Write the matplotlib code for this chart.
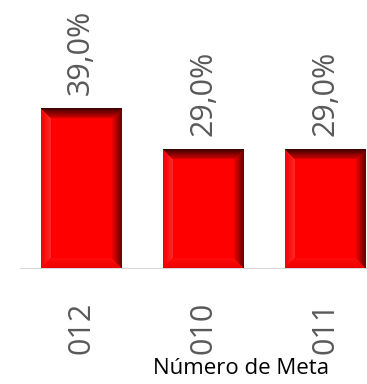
import matplotlib
matplotlib.use("Agg")
import matplotlib.pyplot as plt
import numpy as np

# data
metas = ["012", "010", "011"]
porcentajes = [39.0, 29.0, 29.0]
etiquetas = ["39,0%", "29,0%", "29,0%"]

plt.rcParams["font.family"] = ["Open Sans", "DejaVu Sans"]
GRIS = "#595959"


def bevel_image(w, h, b):
    """RGB image of a red bar with a bevelled (3D) look, w x h pixels."""
    yy, xx = np.mgrid[0:h, 0:w] + 0.5
    dists = np.stack([yy, w - xx, h - yy, xx])  # top, right, bottom, left
    side = dists.argmin(axis=0)
    t = np.clip(dists.min(axis=0) / b, 0, 1)[..., None]
    img = np.ones((h, w, 3)) * np.array([1.0, 0.0, 0.0])
    shades = [
        ((0.22, 0.0, 0.0), (0.85, 0.0, 0.0)),   # top
        ((0.38, 0.0, 0.0), (0.95, 0.0, 0.0)),   # right
        ((0.92, 0.0, 0.0), (1.0, 0.04, 0.04)),  # bottom
        ((0.95, 0.0, 0.0), (1.0, 0.16, 0.16)),  # left
    ]
    inside = dists.min(axis=0) < b
    for k, (c0, c1) in enumerate(shades):
        m = (side == k) & inside
        col = np.array(c0) + (np.array(c1) - np.array(c0)) * t
        img[m] = col[m]
    return img


fig = plt.figure(figsize=(3.67, 3.84), dpi=100)
ax = fig.add_axes([20 / 367, 116 / 384, 347 / 367, 268 / 384])
x = np.arange(len(metas))
bars = ax.bar(x, porcentajes, width=0.66, color="#ff0000", zorder=2)
ax.set_xlim(-0.5, 2.34)
ax.set_ylim(0, 65.7)

# bevel overlay on each bar
for p in bars.patches:
    x0, w, h = p.get_x(), p.get_width(), p.get_height()
    p0 = ax.transData.transform((x0, 0))
    p1 = ax.transData.transform((x0 + w, h))
    wpx, hpx = int(round(p1[0] - p0[0])), int(round(p1[1] - p0[1]))
    ax.imshow(bevel_image(wpx, hpx, 10), extent=(x0, x0 + w, 0, h),
              aspect="auto", interpolation="bilinear", zorder=3)

for xi, val, lbl in zip(x, porcentajes, etiquetas):
    ax.annotate(lbl, (xi, val), xytext=(0, 10), textcoords="offset points",
                rotation=90, ha="center", va="bottom", fontsize=22, color=GRIS)

ax.set_xlim(-0.5, 2.34)
ax.set_ylim(0, 65.7)
ax.set_xticks(x, metas, rotation=90, fontsize=22, color=GRIS)
ax.tick_params(axis="x", length=0, pad=24)
ax.set_yticks([])
for s in ["top", "right", "left"]:
    ax.spines[s].set_visible(False)
ax.spines["bottom"].set_color("#d9d9d9")
ax.spines["bottom"].set_zorder(1)

ax.set_xlabel("Número de Meta", fontsize=16, color="black")
ax.xaxis.set_label_coords(0.637, -0.335)

fig.savefig("out.png", dpi=100)
